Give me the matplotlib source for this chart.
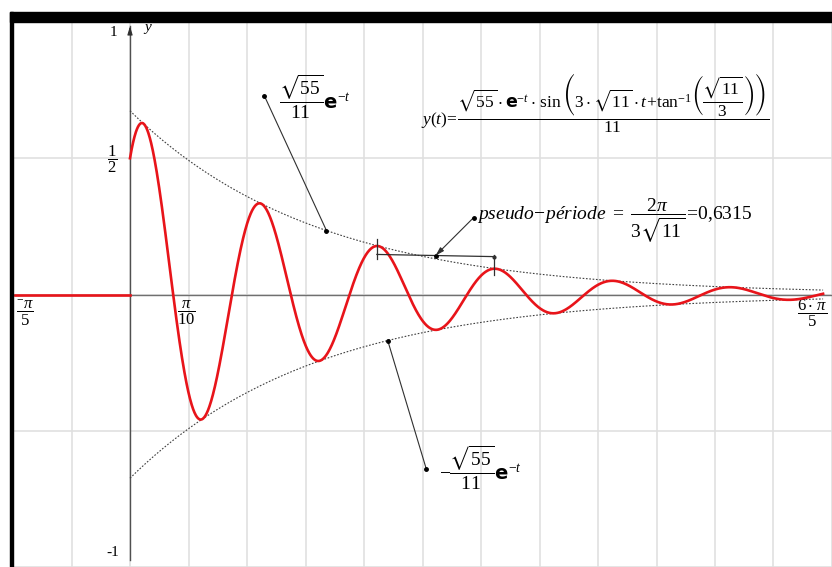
import numpy as np
import matplotlib
matplotlib.use("Agg")
import matplotlib.pyplot as plt

plt.rcParams['font.family'] = ['Liberation Serif', 'DejaVu Serif']
plt.rcParams['mathtext.fontset'] = 'custom'
plt.rcParams['mathtext.rm'] = 'Liberation Serif'
plt.rcParams['mathtext.it'] = 'Liberation Serif:italic'
plt.rcParams['mathtext.bf'] = 'DejaVu Sans:bold'
plt.rcParams['mathtext.fallback'] = 'stix'

# y(t) = sqrt(55)/11 * e^-t * sin(3*sqrt(11)*t + atan(sqrt(11)/3))
amplitude = np.sqrt(55) / 11
omega = 3 * np.sqrt(11)
phase = np.arctan(np.sqrt(11) / 3)
pseudo_period = 2 * np.pi / omega   # 0,6315

x_min, x_max = -0.620, 3.722
y_min, y_max = -0.973, 1.0

x_grid = np.arange(-2, 13) * np.pi / 10
y_grid = [-1.0, -0.5, 0.0, 0.5, 1.0]

# points marked on the envelopes / bracket
t_env_top = 1.055
t_env_bot = 1.384
t_bracket = 1.3256
y_bracket = (0.147, 0.139)


def y_of_t(t):
    return amplitude * np.exp(-t) * np.sin(omega * t + phase)


fig = plt.figure(figsize=(8.32, 5.67), dpi=100)
ax = fig.add_axes([13 / 832, 0, 819 / 832, 545 / 567])
ax.set_xlim(x_min, x_max)
ax.set_ylim(y_min, y_max)
for s in ax.spines.values():
    s.set_visible(False)
ax.set_xticks(x_grid)
ax.set_yticks(y_grid)
ax.tick_params(length=0, labelbottom=False, labelleft=False)
ax.grid(True, color='#e0e0e0', lw=1.2)

# black frame on top and left
fig.patches.append(plt.Rectangle((10 / 832, 1 - 22 / 567), 1 - 10 / 832, 10 / 567,
                                 transform=fig.transFigure, color='black', zorder=10))
fig.patches.append(plt.Rectangle((10 / 832, 0), 3 / 832, 1 - 12 / 567,
                                 transform=fig.transFigure, color='black', zorder=10))

# axes
ax.axhline(0, color='#707070', lw=1.0, zorder=2)
ax.plot([0, 0], [y_min, 0.985], color='#505050', lw=1.0, zorder=2)
ax.annotate('', xy=(0, 0.995), xytext=(0, 0.95),
            arrowprops=dict(arrowstyle='-|>,head_length=0.5,head_width=0.15', color='#303030', lw=0.8))

# envelopes
t_env = np.linspace(0, x_max, 400)
ax.plot(t_env, amplitude * np.exp(-t_env), color='#404040', lw=0.8, ls=(0, (1.5, 1.5)), zorder=3)
ax.plot(t_env, -amplitude * np.exp(-t_env), color='#404040', lw=0.8, ls=(0, (1.5, 1.5)), zorder=3)

# curve: zero before t=0, damped oscillation after
ax.plot([x_min, 0], [0, 0], color='#e8141a', lw=1.9, zorder=5)
t = np.linspace(0, x_max, 2000)
ax.plot(t, y_of_t(t), color='#e8141a', lw=1.9, zorder=5)

# pseudo-period bracket
t2 = t_bracket + pseudo_period
ax.plot([t_bracket, t2], y_bracket, color='#303030', lw=0.9, zorder=6)
ax.plot([t_bracket, t_bracket], [0.205, 0.13], color='#303030', lw=0.9, zorder=6)
ax.plot([t2, t2], [0.145, 0.072], color='#303030', lw=0.9, zorder=6)
ax.plot([t2], [y_bracket[1]], 'o', color='#303030', ms=2, zorder=6)
x_mid = (t_bracket + t2) / 2
y_mid = sum(y_bracket) / 2
ax.plot([x_mid], [y_mid], 'o', color='black', ms=2.5, zorder=7)
ax.annotate('', xy=(x_mid, y_mid), xytext=(1.845, 0.282),
            arrowprops=dict(arrowstyle='-|>,head_length=0.5,head_width=0.15', color='#303030', lw=0.8,
                            shrinkA=0, shrinkB=0), zorder=7)
ax.plot([1.845], [0.282], 'o', color='black', ms=2.5, zorder=7)
ax.text(1.862, 0.270, r"$\mathit{pseudo\!-\!période}\ =\ \dfrac{2\pi}{3\sqrt{11}}\!=\!0{,}6315$",
        fontsize=14, ha='left', va='center')

# envelope labels
y_top = amplitude * np.exp(-t_env_top)
ax.plot([0.721, t_env_top], [0.730, y_top], color='#303030', lw=0.8, zorder=6)
ax.plot([0.721, t_env_top], [0.730, y_top], 'o', color='black', ms=2.5, zorder=7)
ax.text(0.800, 0.725, r"$\dfrac{\sqrt{55}}{11}\mathbf{e}^{-t}$", fontsize=14, ha='left', va='center')

y_bot = -amplitude * np.exp(-t_env_bot)
ax.plot([1.591, t_env_bot], [-0.640, y_bot], color='#303030', lw=0.8, zorder=6)
ax.plot([1.591, t_env_bot], [-0.640, y_bot], 'o', color='black', ms=2.5, zorder=7)
ax.text(1.66, -0.635, r"$-\dfrac{\sqrt{55}}{11}\mathbf{e}^{-t}$", fontsize=14, ha='left', va='center')

# formula
ax.text(1.565, 0.700,
        r"$y(t)\!=\!\dfrac{\sqrt{55}\cdot\mathbf{e}^{-t}\cdot\,\sin\left(3\cdot\sqrt{11}\cdot t"
        r"\!+\!\tan^{-1}\!\left(\dfrac{\sqrt{11}}{3}\right)\right)}{11}$",
        fontsize=12.5, ha='left', va='center')

# axis labels
ax.text(-0.09, 0.962, '1', fontsize=11, ha='center', va='center')
ax.text(0.095, 0.975, r'$y$', fontsize=11, ha='center', va='center')
ax.text(-0.095, 0.495, r'$\dfrac{1}{2}$', fontsize=12, ha='center', va='center')
ax.text(-0.095, -0.948, '-1', fontsize=11, ha='center', va='center')
ax.text(-0.565, -0.068, r'$\dfrac{^{-}\pi}{5}$', fontsize=12, ha='center', va='center')
ax.text(0.302, -0.068, r'$\dfrac{\pi}{10}$', fontsize=12, ha='center', va='center')
ax.text(3.665, -0.068, r'$\dfrac{6\cdot\,\pi}{5}$', fontsize=12, ha='center', va='center')

fig.savefig('out.png', dpi=100)
